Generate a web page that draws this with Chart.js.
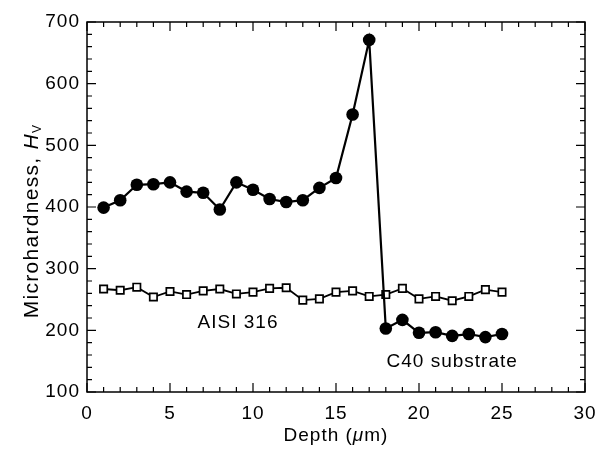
<!DOCTYPE html>
<html>
<head>
<meta charset="utf-8">
<script src="https://cdn.jsdelivr.net/npm/chart.js@4"></script>
<style>
  body { margin: 0; background: #fff; }
  #wrap { width: 614px; height: 451px; }
</style>
</head>
<body>
<div id="wrap"><canvas id="hardnessChart"></canvas></div>
<script>
// depth positions (um)
const depth = [1, 2, 3, 4, 5, 6, 7, 8, 9, 10, 11, 12, 13, 14, 15, 16, 17, 18, 19, 20, 21, 22, 23, 24, 25];
// coated C40 substrate (filled circles)
const c40Values = [399, 411, 436, 437, 440, 425, 423, 396, 440, 428, 413, 408, 411, 431, 447, 550, 671, 203, 217, 196, 197, 191, 194, 189, 194];
// AISI 316 (open squares)
const aisiValues = [267, 265, 270, 254, 263, 258, 264, 267, 259, 262, 268, 269, 249, 251, 262, 264, 255, 258, 268, 251, 255, 248, 255, 266, 262];

const xTicks = [0, 5, 10, 15, 20, 25, 30];
const yTicks = [100, 200, 300, 400, 500, 600, 700];

// in-plot text labels, placed in data coordinates
const seriesLabels = [
    { text: "AISI 316", x: 9.1, y: 212 },
    { text: "C40 substrate", x: 22.0, y: 149 }
];

const FONT = "'Liberation Sans', Arial, Helvetica, sans-serif";
const ctx = document.getElementById("hardnessChart").getContext("2d");

// frame, inward ticks, axis titles and the two series labels
const decorations = {
    id: "decorations",
    beforeDraw(chart) {
        chart.ctx.letterSpacing = "1px";
    },
    afterDraw(chart) {
        const c = chart.ctx;
        const { left, right, top, bottom } = chart.chartArea;
        const xs = chart.scales.x;
        const ys = chart.scales.y;
        c.save();
        c.letterSpacing = "1px";
        c.strokeStyle = "#000";
        c.lineWidth = 1.5;
        c.strokeRect(left, top, right - left, bottom - top);

        c.lineWidth = 1.2;
        c.beginPath();
        for (let v = xs.min; v <= xs.max; v += 1) {
            const px = xs.getPixelForValue(v);
            const len = v % 5 === 0 ? 9 : 5;
            c.moveTo(px, bottom); c.lineTo(px, bottom - len);
            c.moveTo(px, top); c.lineTo(px, top + len);
        }
        for (let v = ys.min; v <= ys.max; v += 20) {
            const py = ys.getPixelForValue(v);
            const len = v % 100 === 0 ? 9 : 5;
            c.moveTo(left, py); c.lineTo(left + len, py);
            c.moveTo(right, py); c.lineTo(right - len, py);
        }
        c.stroke();

        c.fillStyle = "#000";
        c.textBaseline = "middle";
        c.textAlign = "center";
        c.font = "19px " + FONT;
        seriesLabels.forEach(l => {
            c.fillText(l.text, xs.getPixelForValue(l.x), ys.getPixelForValue(l.y));
        });

        // x title: Depth (μm) with italic mu
        const xParts = [
            { t: "Depth (", f: "19px " + FONT },
            { t: "\u03bc", f: "italic 19px " + FONT },
            { t: "m)", f: "19px " + FONT }
        ];
        let w = 0;
        xParts.forEach(p => { c.font = p.f; w += c.measureText(p.t).width; });
        let cx = (left + right) / 2 - w / 2;
        c.textAlign = "left";
        xParts.forEach(p => {
            c.font = p.f;
            c.fillText(p.t, cx, 436);
            cx += c.measureText(p.t).width;
        });

        // y title: Microhardness, H_V
        c.letterSpacing = "1.3px";
        c.translate(32, 221);
        c.rotate(-Math.PI / 2);
        const main = "Microhardness, ";
        c.font = "21px " + FONT;
        const w1 = c.measureText(main).width;
        c.font = "italic 21px " + FONT;
        const w2 = c.measureText("H").width;
        c.font = "12px " + FONT;
        const w3 = c.measureText("V").width;
        let sx = -(w1 + w2 + w3) / 2;
        c.font = "21px " + FONT;
        c.fillText(main, sx, 0);
        sx += w1;
        c.font = "italic 21px " + FONT;
        c.fillText("H", sx, 0);
        sx += w2;
        c.font = "12px " + FONT;
        c.fillText("V", sx, 6);
        c.restore();
    }
};

new Chart(ctx, {
    type: "line",
    data: {
        datasets: [
            {
                label: "C40 substrate",
                data: depth.map((d, i) => ({ x: d, y: c40Values[i] })),
                borderColor: "#000",
                backgroundColor: "#000",
                borderWidth: 2.2,
                pointStyle: "circle",
                pointRadius: 6.3,
                pointBorderWidth: 0,
                tension: 0
            },
            {
                label: "AISI 316",
                data: depth.map((d, i) => ({ x: d, y: aisiValues[i] })),
                borderColor: "#000",
                backgroundColor: "#fff",
                borderWidth: 1.8,
                pointStyle: "rect",
                pointRadius: 5.2,
                pointBorderWidth: 1.7,
                tension: 0
            }
        ]
    },
    options: {
        responsive: true,
        maintainAspectRatio: false,
        animation: false,
        layout: { padding: { top: 22, right: 29, left: 0, bottom: 0 } },
        plugins: {
            legend: { display: false },
            tooltip: { enabled: false }
        },
        scales: {
            x: {
                type: "linear",
                min: 0,
                max: 30,
                afterBuildTicks: s => { s.ticks = xTicks.map(v => ({ value: v })); },
                afterFit: s => { s.height = 59; },
                grid: { display: false, drawTicks: false },
                border: { display: false },
                ticks: { color: "#000", padding: 10, maxRotation: 0, font: { family: FONT, size: 19 } }
            },
            y: {
                min: 100,
                max: 700,
                afterBuildTicks: s => { s.ticks = yTicks.map(v => ({ value: v })); },
                afterFit: s => { s.width = 87; },
                grid: { display: false, drawTicks: false },
                border: { display: false },
                ticks: { color: "#000", padding: 7, font: { family: FONT, size: 19 } }
            }
        }
    },
    plugins: [decorations]
});
</script>
</body>
</html>
